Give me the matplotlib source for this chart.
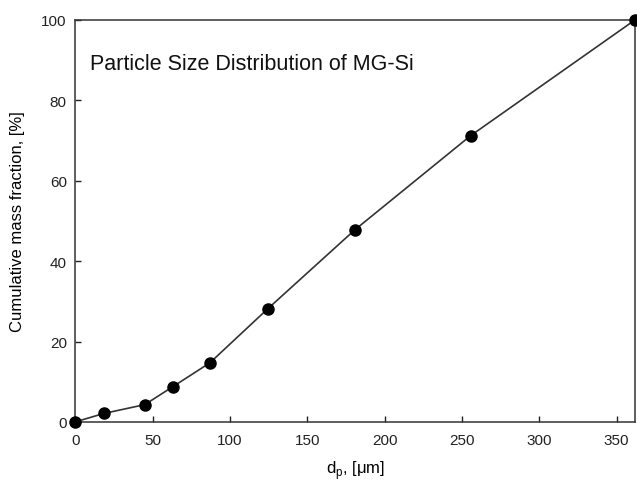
import matplotlib
matplotlib.use('Agg')
import matplotlib.pyplot as plt

plt.rcParams['font.family'] = ['Liberation Sans', 'DejaVu Sans']

# particle size [um] vs cumulative mass fraction [%]
dp = [0, 18.5, 45, 63.3, 87.1, 124.4, 180.9, 255.7, 362]
cum_mass = [0, 2.1, 4.3, 8.8, 14.7, 28.1, 47.8, 71.2, 100]

fig = plt.figure(figsize=(6.37, 4.85), dpi=100)
ax = fig.add_axes([0.118, 0.128, 0.879, 0.829])

ax.plot(dp, cum_mass, color='#333333', linewidth=1.2, marker='o',
        markersize=8, markerfacecolor='black', markeredgecolor='black',
        clip_on=False, zorder=3)

ax.set_xlim(0, 362)
ax.set_ylim(0, 100)
ax.set_xticks([0, 50, 100, 150, 200, 250, 300, 350])
ax.set_yticks([0, 20, 40, 60, 80, 100])
ax.tick_params(direction='in', length=4, width=1, labelsize=11, colors='#222222')
ax.tick_params(axis='x', pad=8)
ax.tick_params(axis='y', pad=6)
for s in ax.spines.values():
    s.set_linewidth(1.1)
    s.set_color('#333333')

ax.set_xlabel(r'd$_\mathregular{p}$, [μm]', fontsize=12, labelpad=8)
ax.set_ylabel('Cumulative mass fraction, [%]', fontsize=12, labelpad=12)
ax.text(0.027, 0.878, 'Particle Size Distribution of MG-Si', transform=ax.transAxes,
        fontsize=15.5, color='#111111', va='baseline', ha='left')

fig.savefig('out.png', dpi=100)
